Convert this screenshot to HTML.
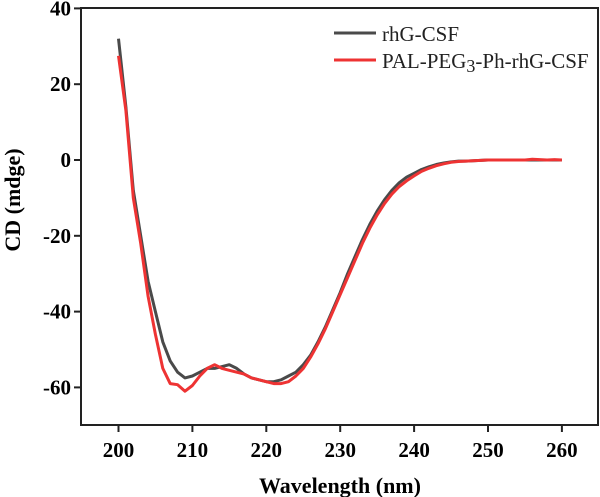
<!DOCTYPE html>
<html><head><meta charset="utf-8"><style>
html,body{margin:0;padding:0;background:#fff;}
svg{display:block;font-family:"Liberation Serif",serif;}
</style></head><body>
<svg id="chart" width="600" height="497" viewBox="0 0 600 497" xmlns="http://www.w3.org/2000/svg">
<rect x="81" y="8" width="517" height="417" fill="none" stroke="#222" stroke-width="2"/>
<g id="xticks"></g>
<g id="yticks"></g>
<g id="series"></g>
<text x="340" y="493" text-anchor="middle" font-weight="bold" font-size="22">Wavelength (nm)</text>
<text transform="translate(20,200) rotate(-90)" text-anchor="middle" font-weight="bold" font-size="22">CD (mdge)</text>
<g>
<line x1="334" y1="33" x2="376" y2="33" stroke="#4a4a4a" stroke-width="3"/>
<text x="382" y="41" font-size="21" fill="#222">rhG-CSF</text>
<line x1="334" y1="60" x2="376" y2="60" stroke="#ee3333" stroke-width="3"/>
<text x="382" y="68" font-size="21" fill="#222">PAL-PEG<tspan font-size="18" dy="4">3</tspan><tspan dy="-4">-Ph-rhG-CSF</tspan></text>
</g>
</svg>
<script>
const wavelengths=[200,201,202,203,204,205,206,207,208,209,210,211,212,213,214,215,216,217,218,219,220,221,222,223,224,225,226,227,228,229,230,231,232,233,234,235,236,237,238,239,240,241,242,243,244,245,246,247,248,249,250,251,252,253,254,255,256,257,258,259,260];
const rhgValues=[32,14,-8,-20,-32,-40,-48,-53,-56,-57.5,-57,-56,-55,-55,-54.5,-54,-55,-56.5,-57.5,-58,-58.5,-58.5,-58,-57,-56,-54,-51.5,-48,-44,-39.5,-35,-30,-25.5,-21,-17,-13.5,-10.5,-8,-6,-4.5,-3.5,-2.5,-1.8,-1.2,-0.8,-0.5,-0.3,-0.3,-0.2,-0.1,0,0,0,0,0,0,0,0,0,0,0];
const palValues=[27.5,13,-10,-22,-36,-46,-55,-59,-59.3,-61,-59.5,-57,-55,-54,-55,-55.5,-56,-56.5,-57.5,-58,-58.5,-59,-59,-58.5,-57,-55,-52,-48.5,-44.5,-40,-35.5,-31,-26.5,-22,-18,-14.5,-11.5,-9,-7,-5.5,-4.2,-3,-2.2,-1.5,-1,-0.6,-0.4,-0.3,-0.2,-0.1,0,0,0,0,0,0,0.2,0.1,0,0.1,0];
const xTickLabels=[200,210,220,230,240,250,260];
const yTickLabels=[40,20,0,-20,-40,-60];
const NS="http://www.w3.org/2000/svg";
function xs(v){return 118.5+(v-200)*7.39;}
function ys(v){return 160-v*3.79;}
function mk(tag,attrs,parent){const e=document.createElementNS(NS,tag);for(const k in attrs)e.setAttribute(k,attrs[k]);parent.appendChild(e);return e;}
const xg=document.getElementById('xticks'),yg=document.getElementById('yticks'),sg=document.getElementById('series');
xTickLabels.forEach(v=>{
  const l=mk('line',{x1:xs(v),x2:xs(v),y1:425,y2:432,stroke:'#222','stroke-width':2},xg);
  
  
  const t=mk('text',{x:xs(v),y:457,'text-anchor':'middle','font-weight':'bold','font-size':21},xg);
  t.textContent=v;
  
  
});
yTickLabels.forEach(v=>{
  const l=mk('line',{x1:74,x2:81,y1:ys(v),y2:ys(v),stroke:'#222','stroke-width':2},yg);
  
  
  const t=mk('text',{x:71,y:ys(v)+7,'text-anchor':'end','font-weight':'bold','font-size':21},yg);
  t.textContent=v;
  
  
});
function path(vals){return vals.map((v,i)=>(i?'L':'M')+xs(wavelengths[i]).toFixed(1)+','+ys(v).toFixed(1)).join(' ');}
const p1=mk('path',{d:path(rhgValues),fill:'none',stroke:'#4a4a4a','stroke-width':3,'stroke-linejoin':'round'},sg);


const p2=mk('path',{d:path(palValues),fill:'none',stroke:'#ee3333','stroke-width':3,'stroke-linejoin':'round'},sg);


</script>
</body></html>
